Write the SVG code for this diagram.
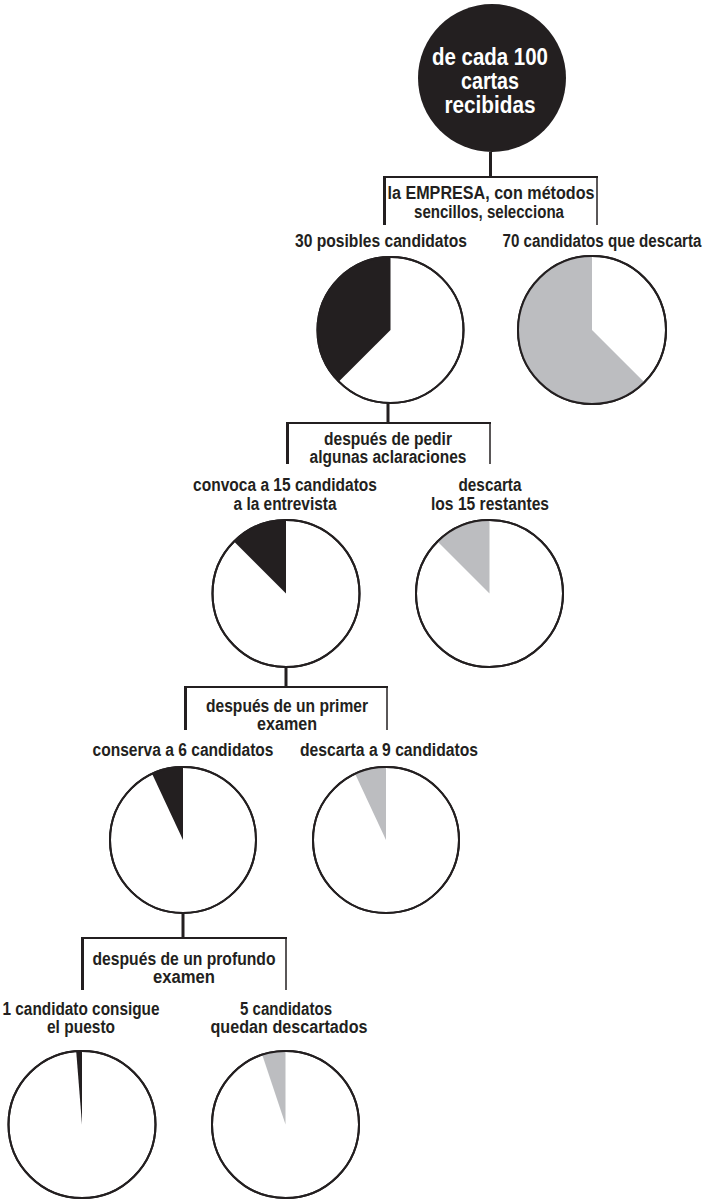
<svg xmlns="http://www.w3.org/2000/svg" width="708" height="1200" viewBox="0 0 708 1200">
<style>
text{font-family:"Liberation Sans",Arial,sans-serif;font-weight:bold;fill:#231f20;text-anchor:middle}
.t{font-size:18px}
.big{font-size:23px;fill:#fff}
.pie{fill:#fff;stroke:#231f20;stroke-width:2}
.ring{fill:none;stroke:#231f20;stroke-width:2}
.blk{fill:#231f20}
.gry{fill:#bcbdc0}
.thick{stroke:#231f20;stroke-width:3;fill:none}
.mid{stroke:#231f20;stroke-width:2.2;fill:none}
.thin{stroke:#231f20;stroke-width:1.5;fill:none}
</style>
<rect width="708" height="1200" fill="#fff"/>
<g id="connectors">
<line class="thick" x1="490.5" y1="152" x2="490.5" y2="178"/>
<line class="mid" x1="383" y1="177" x2="598" y2="177"/>
<line class="thick" x1="384.5" y1="176" x2="384.5" y2="225"/>
<line class="thin" x1="597" y1="177" x2="597" y2="225"/>

<line class="thick" x1="388" y1="403" x2="388" y2="424"/>
<line class="mid" x1="286" y1="423" x2="491" y2="423"/>
<line class="thick" x1="287.5" y1="422" x2="287.5" y2="464"/>
<line class="thin" x1="490" y1="423" x2="490" y2="464"/>

<line class="thick" x1="286" y1="667" x2="286" y2="688"/>
<line class="mid" x1="184" y1="687" x2="388" y2="687"/>
<line class="thick" x1="185.5" y1="686" x2="185.5" y2="730"/>
<line class="thin" x1="387" y1="687" x2="387" y2="730"/>

<line class="thick" x1="183" y1="913" x2="183" y2="939"/>
<line class="mid" x1="81" y1="938" x2="287" y2="938"/>
<line class="thick" x1="82.5" y1="937" x2="82.5" y2="990"/>
<line class="thin" x1="286" y1="938" x2="286" y2="990"/>
</g>
<g id="n0">
<circle cx="492" cy="78" r="74" fill="#231f20"/>
<text class="big" x="490" y="65" textLength="116" lengthAdjust="spacingAndGlyphs">de cada 100</text>
<text class="big" x="490" y="89" textLength="58" lengthAdjust="spacingAndGlyphs">cartas</text>
<text class="big" x="490" y="113" textLength="91" lengthAdjust="spacingAndGlyphs">recibidas</text>
</g>
<g id="b1">
<text class="t" x="491" y="199" textLength="207" lengthAdjust="spacingAndGlyphs">la EMPRESA, con métodos</text>
<text class="t" x="489" y="218" textLength="150" lengthAdjust="spacingAndGlyphs">sencillos, selecciona</text>
</g>
<g id="n1">
<text class="t" x="381" y="247" textLength="172" lengthAdjust="spacingAndGlyphs">30 posibles candidatos</text>
<circle class="pie" cx="390.5" cy="330" r="73"/>
<path class="blk" d="M390.5 330 L390.5 257 A73 73 0 0 0 338.9 381.6 Z"/>
<circle class="ring" cx="390.5" cy="330" r="73"/>
</g>
<g id="n2">
<text class="t" x="602" y="247" textLength="199" lengthAdjust="spacingAndGlyphs">70 candidatos que descarta</text>
<circle class="pie" cx="592" cy="330" r="74"/>
<path class="gry" d="M592 330 L592 256 A74 74 0 1 0 644.3 382.3 Z"/>
<circle class="ring" cx="592" cy="330" r="74"/>
</g>
<g id="b2">
<text class="t" x="388" y="445" textLength="128" lengthAdjust="spacingAndGlyphs">después de pedir</text>
<text class="t" x="388" y="463" textLength="157" lengthAdjust="spacingAndGlyphs">algunas aclaraciones</text>
</g>
<g id="n3">
<text class="t" x="285" y="491" textLength="184" lengthAdjust="spacingAndGlyphs">convoca a 15 candidatos</text>
<text class="t" x="285" y="510" textLength="103" lengthAdjust="spacingAndGlyphs">a la entrevista</text>
<circle class="pie" cx="286" cy="593.5" r="73.5"/>
<path class="blk" d="M286 593.5 L286 520 A73.5 73.5 0 0 0 234 541.5 Z"/>
<circle class="ring" cx="286" cy="593.5" r="73.5"/>
</g>
<g id="n4">
<text class="t" x="490" y="491" textLength="63" lengthAdjust="spacingAndGlyphs">descarta</text>
<text class="t" x="490" y="510" textLength="118" lengthAdjust="spacingAndGlyphs">los 15 restantes</text>
<circle class="pie" cx="489.5" cy="593.5" r="73.5"/>
<path class="gry" d="M489.5 593.5 L489.5 520 A73.5 73.5 0 0 0 437.5 541.5 Z"/>
<circle class="ring" cx="489.5" cy="593.5" r="73.5"/>
</g>
<g id="b3">
<text class="t" x="287" y="712" textLength="162" lengthAdjust="spacingAndGlyphs">después de un primer</text>
<text class="t" x="287" y="730" textLength="60" lengthAdjust="spacingAndGlyphs">examen</text>
</g>
<g id="n5">
<text class="t" x="183" y="756" textLength="181" lengthAdjust="spacingAndGlyphs">conserva a 6 candidatos</text>
<circle class="pie" cx="183" cy="840" r="73"/>
<path class="blk" d="M183 840 L183 767 A73 73 0 0 0 152.1 773.8 Z"/>
<circle class="ring" cx="183" cy="840" r="73"/>
</g>
<g id="n6">
<text class="t" x="389" y="756" textLength="178" lengthAdjust="spacingAndGlyphs">descarta a 9 candidatos</text>
<circle class="pie" cx="386" cy="840" r="73"/>
<path class="gry" d="M386 840 L386 767 A73 73 0 0 0 355.1 773.8 Z"/>
<circle class="ring" cx="386" cy="840" r="73"/>
</g>
<g id="b4">
<text class="t" x="184" y="965" textLength="183" lengthAdjust="spacingAndGlyphs">después de un profundo</text>
<text class="t" x="184" y="983" textLength="62" lengthAdjust="spacingAndGlyphs">examen</text>
</g>
<g id="n7">
<text class="t" x="81" y="1015" textLength="157" lengthAdjust="spacingAndGlyphs">1 candidato consigue</text>
<text class="t" x="81" y="1033" textLength="68" lengthAdjust="spacingAndGlyphs">el puesto</text>
<circle class="pie" cx="82" cy="1124.5" r="73.5"/>
<path class="blk" d="M82 1124.5 L82 1051 A73.5 73.5 0 0 0 76.2 1051.2 Z"/>
<circle class="ring" cx="82" cy="1124.5" r="73.5"/>
</g>
<g id="n8">
<text class="t" x="286" y="1015" textLength="92" lengthAdjust="spacingAndGlyphs">5 candidatos</text>
<text class="t" x="289" y="1033" textLength="157" lengthAdjust="spacingAndGlyphs">quedan descartados</text>
<circle class="pie" cx="285.5" cy="1124.5" r="73.5"/>
<path class="gry" d="M285.5 1124.5 L285.5 1051 A73.5 73.5 0 0 0 262.2 1054.8 Z"/>
<circle class="ring" cx="285.5" cy="1124.5" r="73.5"/>
</g>
</svg>
